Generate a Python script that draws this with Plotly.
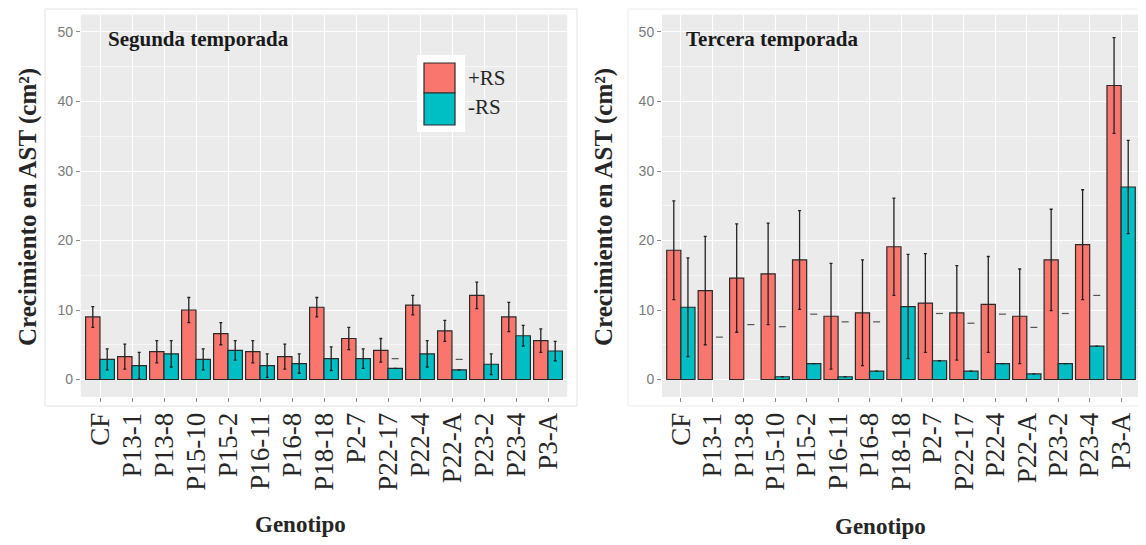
import plotly.graph_objects as go

W, H = 1146, 545
OFF = 8  # default page body margin of the written html
FW, FH = W - OFF, H - OFF

genotipos = ["CF", "P13-1", "P13-8", "P15-10", "P15-2", "P16-11", "P16-8", "P18-18",
             "P2-7", "P22-17", "P22-4", "P22-A", "P23-2", "P23-4", "P3-A"]

# Segunda temporada
seg_pos = [9.0, 3.3, 4.0, 10.0, 6.6, 4.0, 3.3, 10.4, 5.9, 4.2, 10.7, 7.0, 12.1, 9.0, 5.6]
seg_pos_err = [1.5, 1.8, 1.6, 1.8, 1.6, 1.6, 1.8, 1.4, 1.6, 1.7, 1.4, 1.5, 1.9, 2.1, 1.7]
seg_neg = [2.9, 2.0, 3.7, 2.9, 4.2, 2.0, 2.3, 3.0, 3.0, 1.6, 3.7, 1.4, 2.2, 6.3, 4.1]
seg_neg_err = [1.5, 1.9, 1.9, 1.5, 1.4, 1.7, 1.4, 1.7, 1.4, 0, 1.9, 0, 1.5, 1.5, 1.4]
seg_neg_mark = [None, None, None, None, None, None, None, None, None, 3.0, None, 2.9, None, None, None]

# Tercera temporada
ter_pos = [18.6, 12.8, 14.6, 15.2, 17.2, 9.1, 9.6, 19.1, 11.0, 9.6, 10.8, 9.1, 17.2, 19.4, 42.3]
ter_pos_err = [7.1, 7.8, 7.8, 7.3, 7.1, 7.6, 7.6, 7.0, 7.1, 6.8, 6.9, 6.8, 7.3, 7.9, 6.9]
ter_neg = [10.4, None, None, 0.4, 2.3, 0.4, 1.2, 10.5, 2.7, 1.2, 2.3, 0.8, 2.3, 4.8, 27.7]
ter_neg_err = [7.1, 0, 0, 0, 0, 0, 0, 7.5, 0, 0, 0, 0, 0, 0, 6.7]
ter_neg_mark = [None, 6.1, 7.9, 7.6, 9.4, 8.3, 8.3, None, 9.5, 8.1, 9.4, 7.5, 9.5, 12.1, None]

yticks = [0, 10, 20, 30, 40, 50]

COL_POS = "#F8766D"
COL_NEG = "#00BFC4"
SERIF = "Liberation Serif"


def px(x):
    return (x - OFF) / FW


def py(y):
    return 1 - (y - OFF) / FH


idx = list(range(len(genotipos)))
fig = go.Figure()


def add_panel(xa, ya, pos, pos_err, neg, neg_err, mark):
    fig.add_trace(go.Bar(
        x=idx, y=pos, name="+RS", xaxis=xa, yaxis=ya, showlegend=False,
        marker=dict(color=COL_POS, line=dict(color="#2a2a2a", width=1.2)),
        error_y=dict(type="data", array=pos_err, color="#222", thickness=1.3, width=1.5),
    ))
    fig.add_trace(go.Bar(
        x=idx, y=neg, name="-RS", xaxis=xa, yaxis=ya, showlegend=False,
        marker=dict(color=COL_NEG, line=dict(color="#2a2a2a", width=1.2)),
        error_y=dict(type="data", array=neg_err, color="#222", thickness=1.3, width=1.5),
    ))
    fig.add_trace(go.Scatter(
        x=[i + 0.225 for i in idx], y=mark, mode="markers", xaxis=xa, yaxis=ya,
        showlegend=False, hoverinfo="skip",
        marker=dict(symbol="line-ew", size=5, line=dict(color="#555", width=1.2)),
    ))


add_panel("x", "y", seg_pos, seg_pos_err, seg_neg, seg_neg_err, seg_neg_mark)
add_panel("x2", "y2", ter_pos, ter_pos_err, ter_neg, ter_neg_err, ter_neg_mark)

ydom = [py(396.9), py(14.6)]
xcommon = dict(
    tickmode="array", tickvals=idx, ticktext=genotipos, range=[-0.6, 14.6],
    tickangle=-90, tickfont=dict(family=SERIF, size=27, color="#262626"),
    ticks="outside", ticklen=4, tickcolor="#8a8a8a", tickwidth=1,
    showgrid=True, gridcolor="white", gridwidth=1.2, zeroline=False, showline=False,
    automargin=False,
)
ycommon = dict(
    range=[-2.5, 52.5], tickmode="array", tickvals=yticks,
    tickfont=dict(family="Liberation Sans", size=14, color="#7a7a7a"),
    ticks="outside", ticklen=4, tickcolor="#8a8a8a", tickwidth=1,
    showgrid=True, gridcolor="white", gridwidth=1.2, zeroline=False, showline=False,
    automargin=False,
    minor=dict(tickmode="array", tickvals=[5, 15, 25, 35, 45], showgrid=True,
               gridcolor="#f6f6f6", gridwidth=0.6),
)

fig.update_layout(
    width=FW, height=FH, margin=dict(l=0, r=0, t=0, b=0),
    paper_bgcolor="white", plot_bgcolor="#EBEBEB",
    barmode="group", bargap=0.1, bargroupgap=0,
    xaxis=dict(domain=[px(80.8), px(567.2)], anchor="y", **xcommon),
    yaxis=dict(domain=ydom, anchor="x", **ycommon),
    xaxis2=dict(domain=[px(662), px(1140)], anchor="y2", **xcommon),
    yaxis2=dict(domain=ydom, anchor="x2", **ycommon),
)

shapes = [
    # faint outer frames
    dict(type="rect", xref="paper", yref="paper", x0=px(45), x1=px(577), y0=py(406), y1=py(9),
         line=dict(color="#e2e2e2", width=1), layer="below"),
    dict(type="rect", xref="paper", yref="paper", x0=px(628), x1=px(1145), y0=py(406), y1=py(9),
         line=dict(color="#ececec", width=1), layer="below"),
    # legend background
    dict(type="rect", xref="paper", yref="paper", x0=px(417), x1=px(465), y0=py(132), y1=py(55),
         fillcolor="white", line=dict(width=0)),
    dict(type="rect", xref="paper", yref="paper", x0=px(424), x1=px(455), y0=py(93), y1=py(63),
         fillcolor=COL_POS, line=dict(color="#2a2a2a", width=1.2)),
    dict(type="rect", xref="paper", yref="paper", x0=px(424), x1=px(455), y0=py(125), y1=py(93),
         fillcolor=COL_NEG, line=dict(color="#2a2a2a", width=1.2)),
]

annotations = [
    dict(text="+RS", x=px(466), y=py(78), xanchor="left", yanchor="middle",
         font=dict(family=SERIF, size=21, color="#262626")),
    dict(text="-RS", x=px(466), y=py(107), xanchor="left", yanchor="middle",
         font=dict(family=SERIF, size=21, color="#262626")),
    dict(text="<b>Segunda temporada</b>", x=px(106), y=py(39), xanchor="left", yanchor="middle",
         font=dict(family=SERIF, size=21, color="#1a1a1a")),
    dict(text="<b>Tercera temporada</b>", x=px(684), y=py(39), xanchor="left", yanchor="middle",
         font=dict(family=SERIF, size=21, color="#1a1a1a")),
    dict(text="<b>Crecimiento en AST (cm²)</b>", x=px(28), y=py(207), textangle=-90,
         xanchor="center", yanchor="middle", font=dict(family=SERIF, size=25, color="#262626")),
    dict(text="<b>Crecimiento en AST (cm²)</b>", x=px(604), y=py(207), textangle=-90,
         xanchor="center", yanchor="middle", font=dict(family=SERIF, size=25, color="#262626")),
    dict(text="<b>Genotipo</b>", x=px(300), y=py(524), xanchor="center", yanchor="middle",
         font=dict(family=SERIF, size=23, color="#262626")),
    dict(text="<b>Genotipo</b>", x=px(880), y=py(526), xanchor="center", yanchor="middle",
         font=dict(family=SERIF, size=23, color="#262626")),
]
for a in annotations:
    a.update(xref="paper", yref="paper", showarrow=False)

fig.update_layout(shapes=shapes, annotations=annotations)

fig.write_html("out.html")
